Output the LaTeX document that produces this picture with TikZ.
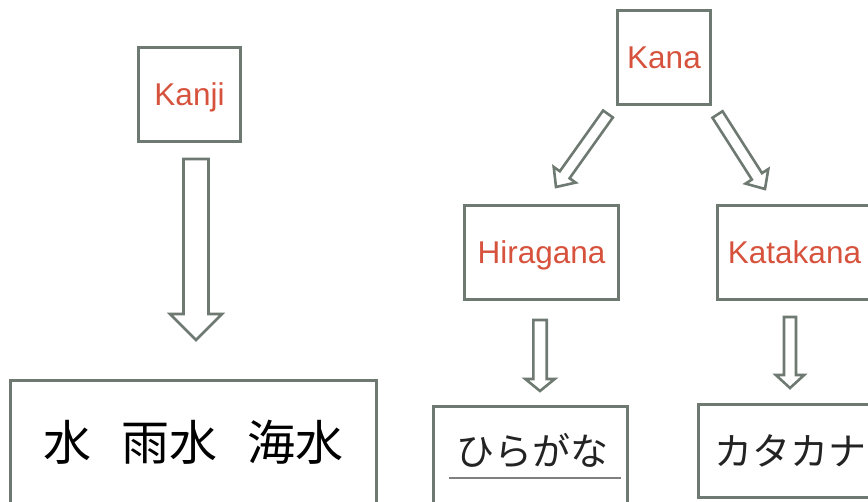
\documentclass[tikz,border=0pt]{standalone}
\usepackage{fontspec}
\setmainfont{Liberation Sans}
\newfontfamily\jpfont{Noto Sans CJK JP}
\usepackage{tikz}
\usetikzlibrary{calc,positioning}
\definecolor{boxgray}{RGB}{110,122,113}
\definecolor{labelred}{RGB}{214,82,60}
\definecolor{inkgray}{RGB}{35,35,35}

% hollow block arrow: tail, tip, half shaft, half head, head length
\newcommand{\fatarrow}[5]{%
  \coordinate (#1neck) at ($(#2)!#5!(#1)$);
  \draw[arrow line] ($(#1)!#3!90:(#2)$) -- ($(#1neck)!#3!90:(#2)$) -- ($(#1neck)!#4!90:(#2)$)
    -- (#2) -- ($(#1neck)!#4!-90:(#2)$) -- ($(#1neck)!#3!-90:(#2)$) -- ($(#1)!#3!-90:(#2)$) -- cycle;
}

\begin{document}
\begin{tikzpicture}[x=1pt,y=-1pt,
  main box/.style={rectangle,draw=boxgray,line width=3pt,inner sep=0pt},
  name label/.style={text=labelred,font=\fontsize{31.5}{31.5}\selectfont,text depth=0pt},
  kanji text/.style={text=black,font=\jpfont\fontsize{48}{48}\selectfont},
  kana text/.style={text=inkgray,font=\jpfont\fontsize{38}{38}\selectfont},
  arrow line/.style={draw=boxgray,line width=2.6pt,fill=white,line join=miter},
  underline/.style={draw=gray,line width=1.5pt}]
  \useasboundingbox (0,0) rectangle (868,502);
  \clip (0,0) rectangle (868,502);

  % script names
  \node[main box,name label,minimum width=102pt,minimum height=94pt] (kanji) at (189.5,94.5) {Kanji};
  \node[main box,name label,minimum width=93pt,minimum height=94pt] (kana) at (664,57.5) {Kana};
  \node[main box,name label,minimum width=154pt,minimum height=94pt] (hiragana) at (541.5,252.5) {Hiragana};
  \node[main box,name label,minimum width=154pt,minimum height=94pt] (katakana) at (794.5,252.5) {Katakana};

  % examples
  \node[main box,kanji text,minimum width=366pt,minimum height=123pt] (kanjiWords) at (193.5,442) {水\hspace{30pt}雨水\hspace{30pt}海水};
  \node[main box,minimum width=194pt,minimum height=115pt] (hiraBox) at (530.5,464) {};
  \node[kana text] (hiraWord) at (532,451) {ひらがな};
  \draw[underline] ($(hiraWord)+(-83,27)$) -- ($(hiraWord)+(89,27)$);
  \node[main box,kana text,minimum width=184pt,minimum height=93pt] (kataWords) at (790.5,451) {カタカナ};

  % arrows
  \coordinate (kanjiTail) at (196,159);
  \coordinate (kanjiTip) at (196,340);
  \coordinate (hiraTail) at (608,114);
  \coordinate (hiraTip) at (556,187);
  \coordinate (kataTail) at (717.5,114.5);
  \coordinate (kataTip) at (765,189);
  \coordinate (hiraDownTail) at (540,320);
  \coordinate (hiraDownTip) at (540,391);
  \coordinate (kataDownTail) at (790,317);
  \coordinate (kataDownTip) at (790,388);
  \fatarrow{kanjiTail}{kanjiTip}{12.5pt}{26pt}{26pt}
  \fatarrow{hiraTail}{hiraTip}{6pt}{13.5pt}{15pt}
  \fatarrow{kataTail}{kataTip}{6pt}{13.5pt}{15pt}
  \fatarrow{hiraDownTail}{hiraDownTip}{6.7pt}{14.7pt}{12pt}
  \fatarrow{kataDownTail}{kataDownTip}{6pt}{14.2pt}{13pt}
\end{tikzpicture}
\end{document}
